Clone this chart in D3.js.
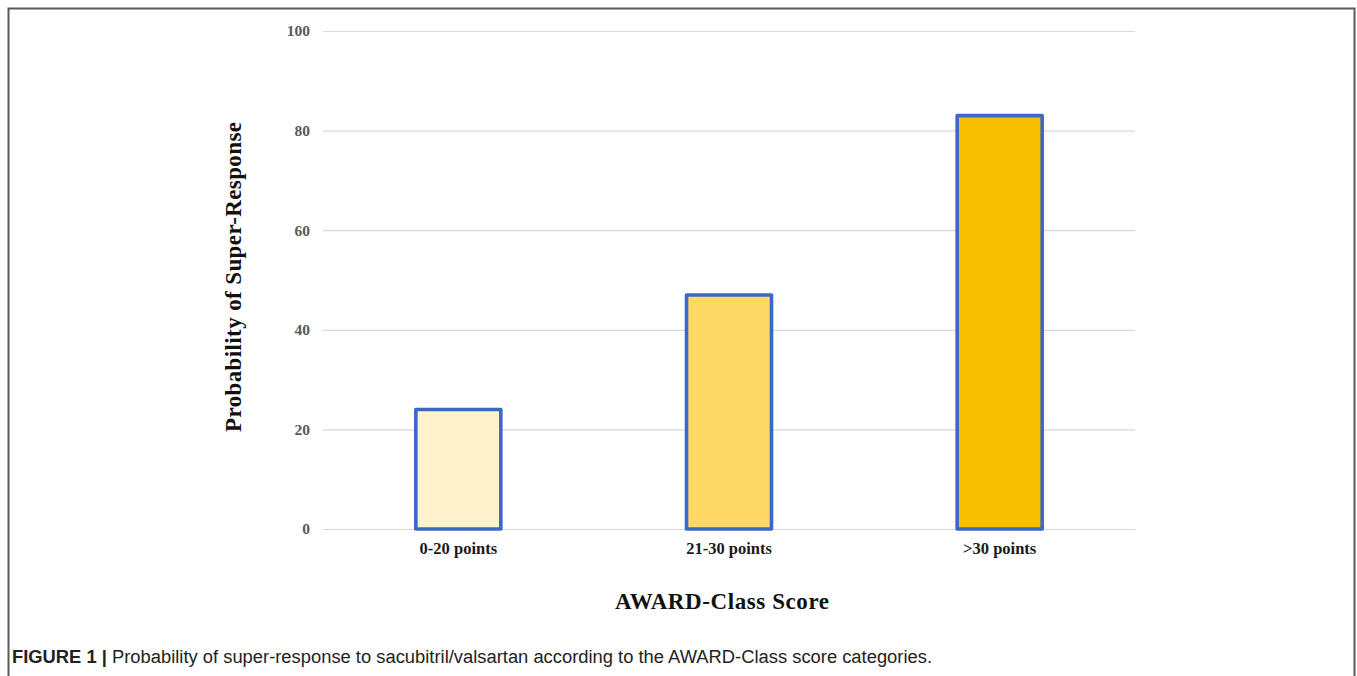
<!DOCTYPE html>
<html>
<head>
<meta charset="utf-8">
<script src="https://cdn.jsdelivr.net/npm/d3@7"></script>
<style>
  html, body { margin: 0; padding: 0; background: #fff; }
  svg { display: block; }
</style>
</head>
<body>
<svg id="chart" width="1357" height="676"></svg>
<script>
// Super-response probability by AWARD-Class score category
const categories = ["0-20 points", "21-30 points", ">30 points"];
const values = [24, 47, 83];
const barColors = ["#FFF2CC", "#FFD966", "#F9C000"];
const yTicks = [0, 20, 40, 60, 80, 100];

const svg = d3.select("#chart");

// outer figure frame
svg.append("rect")
  .attr("x", 8.5).attr("y", 8.5)
  .attr("width", 1346).attr("height", 700)
  .attr("fill", "none").attr("stroke", "#5a5a5a").attr("stroke-width", 2);

const plot = { left: 323, right: 1135, top: 31, bottom: 529 };

const x = d3.scaleBand()
  .domain(categories)
  .range([plot.left, plot.right])
  .paddingInner(0.686)
  .paddingOuter(0.343);

const y = d3.scaleLinear()
  .domain([0, 100])
  .range([plot.bottom, plot.top]);

// horizontal gridlines
svg.append("g")
  .selectAll("line")
  .data(yTicks)
  .join("line")
  .attr("x1", plot.left).attr("x2", plot.right)
  .attr("y1", d => y(d) + 0.5).attr("y2", d => y(d) + 0.5)
  .attr("stroke", "#d9d9d9").attr("stroke-width", 1.2);

// y tick labels
const yAxis = d3.axisLeft(y).tickValues(yTicks).tickSize(0).tickPadding(0);
const gy = svg.append("g")
  .attr("transform", `translate(${plot.left - 13},0)`)
  .call(yAxis);
gy.select(".domain").remove();
gy.selectAll("text")
  .attr("font-family", "'Liberation Serif', 'Times New Roman', serif")
  .attr("font-size", 15.5)
  .attr("font-weight", "bold")
  .attr("fill", "#595959")
  .attr("dy", "0.32em");

// bars
svg.append("g")
  .selectAll("rect")
  .data(values)
  .join("rect")
  .attr("x", (d, i) => x(categories[i]))
  .attr("y", d => y(d))
  .attr("width", x.bandwidth())
  .attr("height", d => y(0) - y(d))
  .attr("fill", (d, i) => barColors[i])
  .attr("stroke", "#3A68C6")
  .attr("stroke-width", 3.6)
  .attr("stroke-linejoin", "round");

// category labels
const xAxis = d3.axisBottom(x).tickSize(0).tickPadding(0);
const gx = svg.append("g")
  .attr("transform", `translate(0,${plot.bottom + 25})`)
  .call(xAxis);
gx.select(".domain").remove();
gx.selectAll("text")
  .attr("font-family", "'Liberation Serif', 'Times New Roman', serif")
  .attr("font-size", 16.5)
  .attr("font-weight", "bold")
  .attr("fill", "#1a1a1a")
  .attr("dy", 0);

// axis titles
svg.append("text")
  .attr("transform", "translate(241,277) rotate(-90)")
  .attr("text-anchor", "middle")
  .attr("font-family", "'Liberation Serif', 'Times New Roman', serif")
  .attr("font-size", 23)
  .attr("font-weight", "bold")
  .attr("fill", "#111")
  .attr("textLength", 310)
  .text("Probability  of Super-Response");

svg.append("text")
  .attr("x", 722).attr("y", 609)
  .attr("text-anchor", "middle")
  .attr("font-family", "'Liberation Serif', 'Times New Roman', serif")
  .attr("font-size", 23)
  .attr("font-weight", "bold")
  .attr("fill", "#111")
  .attr("textLength", 214)
  .text("AWARD-Class  Score");

// figure caption
const cap = svg.append("text")
  .attr("x", 12).attr("y", 663)
  .attr("font-family", "'Liberation Sans', Arial, sans-serif")
  .attr("font-size", 18)
  .attr("fill", "#222")
  .attr("textLength", 920)
  .attr("lengthAdjust", "spacingAndGlyphs");
cap.append("tspan").attr("font-weight", "bold").text("FIGURE 1 | ");
cap.append("tspan").text("Probability of super-response to sacubitril/valsartan according to the AWARD-Class score categories.");
</script>
</body>
</html>
